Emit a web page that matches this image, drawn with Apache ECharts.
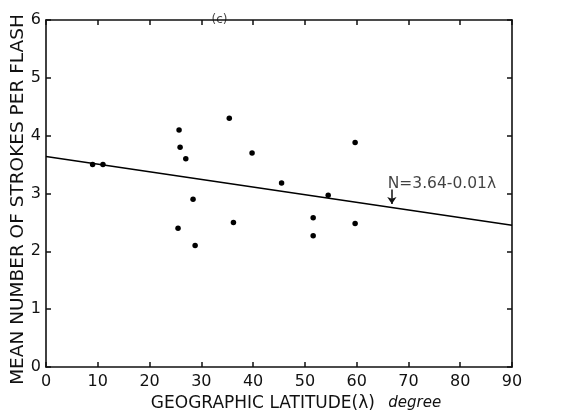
<!DOCTYPE html>
<html><head><meta charset="utf-8">
<script src="https://cdn.jsdelivr.net/npm/echarts@6/dist/echarts.min.js"></script>
<style>html,body{margin:0;padding:0;background:#fff}#c{width:586px;height:417px}</style>
</head><body><div id="c"></div>
<script>
const latitude = [9, 11, 25.7, 25.9, 27, 28.4, 25.5, 28.8, 35.4, 36.2, 39.8, 45.5, 51.6, 51.6, 54.5, 59.7, 59.7];
const strokes  = [3.5, 3.5, 4.1, 3.8, 3.6, 2.9, 2.4, 2.1, 4.3, 2.5, 3.7, 3.18, 2.58, 2.27, 2.97, 3.88, 2.48];
const fitX = [0, 90];
const fitY = [3.64, 2.45];
const eqLabel = 'N=3.64-0.01λ';
const eqPos = [66.0, 3.17];
const arrowFrom = [66.8, 3.07];
const arrowTo = [66.8, 2.82];
const panelLabel = '(c)';
const panelPos = [33.5, 6];
const xTicks = [0, 10, 20, 30, 40, 50, 60, 70, 80, 90];
const yTicks = [0, 1, 2, 3, 4, 5, 6];

const font = 'DejaVu Sans';
const chart = echarts.init(document.getElementById('c'));
const axisLine = {show: true, onZero: false, lineStyle: {color: '#111', width: 1.6}};
const tick = {show: true, inside: true, length: 5, lineStyle: {color: '#111', width: 1.5}};
chart.setOption({
  animation: false,
  backgroundColor: '#fff',
  grid: {left: 46, right: 74, top: 20, bottom: 50, outerBoundsMode: 'none', containLabel: false},
  xAxis: [{
    type: 'value', min: xTicks[0], max: xTicks[xTicks.length-1], interval: 10,
    axisLine, axisTick: tick, splitLine: {show: false},
    axisLabel: {color: '#111', fontFamily: font, fontSize: 16, margin: 7},
    name: '{a|GEOGRAPHIC LATITUDE(λ)}    {b|degree}', nameLocation: 'middle', nameGap: 28,
    nameMoveOverlap: false,
    nameTextStyle: {rich: {
      a: {fontFamily: font, fontSize: 17, color: '#111'},
      b: {fontFamily: font, fontSize: 15, fontStyle: 'italic', color: '#111'}
    }, padding: [0, 0, 0, 34]}
  }, {
    type: 'value', position: 'top', min: 0, max: 90, interval: 10,
    axisLine, axisTick: tick, axisLabel: {show: false}, splitLine: {show: false}
  }],
  yAxis: [{
    type: 'value', min: yTicks[0], max: yTicks[yTicks.length-1], interval: 1,
    axisLine, axisTick: tick, splitLine: {show: false},
    axisLabel: {color: '#111', fontFamily: font, fontSize: 16, margin: 5},
    name: 'MEAN NUMBER OF STROKES PER FLASH', nameLocation: 'middle', nameGap: 18,
    nameMoveOverlap: false,
    nameTextStyle: {fontFamily: font, fontSize: 18.5, color: '#111', padding: [0, 12, 0, 0]}
  }, {
    type: 'value', position: 'right', min: 0, max: 6, interval: 1,
    axisLine, axisTick: tick, axisLabel: {show: false}, splitLine: {show: false}
  }],
  series: [{
    type: 'scatter', data: latitude.map((x, i) => [x, strokes[i]]),
    symbolSize: 5.5, itemStyle: {color: '#000', opacity: 1},
    markLine: {
      silent: true, symbol: ['none', 'arrow'], symbolSize: 7,
      lineStyle: {color: '#111', width: 1.5, type: 'solid'}, label: {show: false},
      data: [[{coord: arrowFrom}, {coord: arrowTo}]]
    }
  }, {
    type: 'line', data: fitX.map((x, i) => [x, fitY[i]]),
    symbol: 'none', lineStyle: {color: '#000', width: 1.6}
  }, {
    type: 'scatter', data: [eqPos], symbolSize: 0, silent: true,
    label: {show: true, position: 'right', formatter: eqLabel, fontFamily: font, fontSize: 15.5, color: '#111', distance: 0}
  }, {
    type: 'scatter', data: [panelPos], symbolSize: 0, silent: true, clip: false,
    label: {show: true, position: 'inside', formatter: panelLabel, fontFamily: font, fontSize: 12, color: '#111'}
  }]
});
</script></body></html>
